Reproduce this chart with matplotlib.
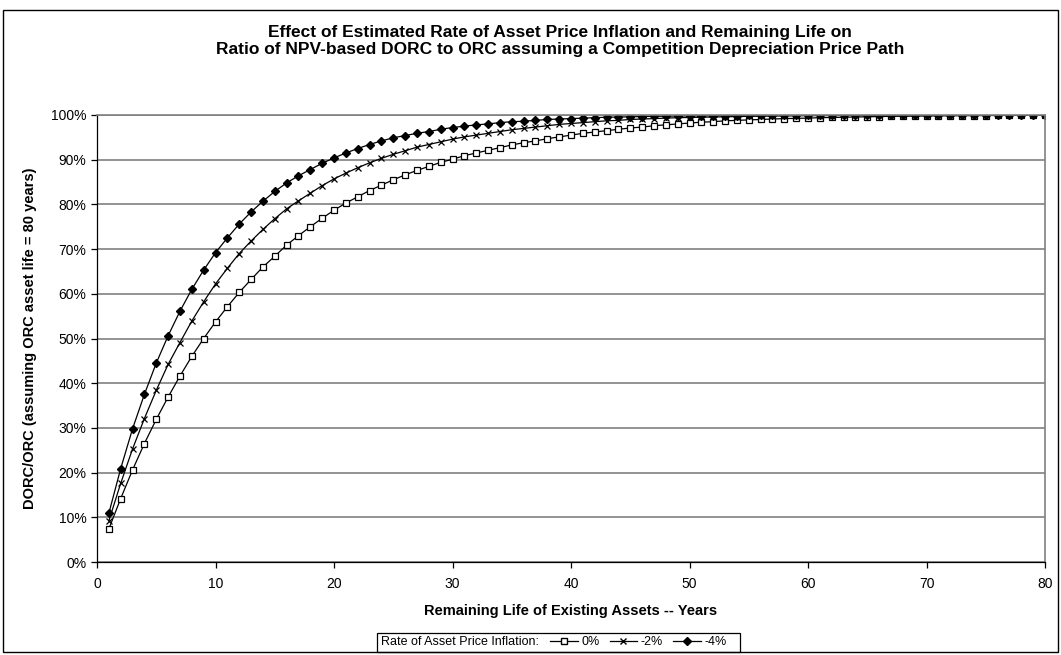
import matplotlib
matplotlib.use('Agg')
import matplotlib.pyplot as plt
from matplotlib.ticker import PercentFormatter, MultipleLocator
from matplotlib.lines import Line2D
from matplotlib.patches import Rectangle

plt.rcParams['font.family'] = ['Liberation Sans', 'DejaVu Sans']

# remaining life (years)
years = list(range(1, 81))

# DORC/ORC (%) for each rate of asset price inflation
ratio_0 = [7.4, 14.2, 20.6, 26.5, 31.9, 36.9, 41.6, 46.0, 50.0, 53.7,
           57.1, 60.3, 63.2, 66.0, 68.4, 70.9, 73.0, 75.0, 76.9, 78.7,
           80.3, 81.7, 83.1, 84.3, 85.5, 86.6, 87.6, 88.5, 89.4, 90.1,
           90.9, 91.5, 92.1, 92.7, 93.3, 93.8, 94.2, 94.7, 95.1, 95.5,
           95.9, 96.2, 96.5, 96.8, 97.1, 97.3, 97.6, 97.8, 98.0, 98.2,
           98.4, 98.5, 98.7, 98.8, 98.9, 99.0, 99.1, 99.2, 99.25, 99.3,
           99.4, 99.45, 99.5, 99.55, 99.6, 99.65, 99.7, 99.72, 99.75, 99.78,
           99.8, 99.82, 99.84, 99.86, 99.88, 99.9, 99.91, 99.92, 99.94, 99.95]

ratio_m2 = [9.2, 17.6, 25.3, 32.1, 38.4, 44.2, 49.1, 53.9, 58.2, 62.2,
            65.7, 69.0, 71.8, 74.4, 76.8, 79.0, 80.8, 82.5, 84.2, 85.7,
            87.0, 88.2, 89.3, 90.3, 91.2, 92.0, 92.8, 93.4, 94.0, 94.6,
            95.1, 95.5, 95.9, 96.3, 96.7, 97.0, 97.3, 97.6, 97.9, 98.1,
            98.3, 98.5, 98.7, 98.8, 99.0, 99.1, 99.2, 99.3, 99.4, 99.45,
            99.5, 99.55, 99.6, 99.65, 99.7, 99.73, 99.76, 99.79, 99.82, 99.84,
            99.86, 99.88, 99.89, 99.9, 99.91, 99.92, 99.93, 99.94, 99.95, 99.95,
            99.96, 99.96, 99.97, 99.97, 99.98, 99.98, 99.98, 99.99, 99.99, 99.99]

ratio_m4 = [10.9, 20.9, 29.8, 37.5, 44.5, 50.6, 56.1, 61.0, 65.3, 69.2,
            72.5, 75.6, 78.3, 80.7, 82.9, 84.8, 86.4, 87.8, 89.2, 90.4,
            91.5, 92.5, 93.4, 94.2, 94.9, 95.4, 95.9, 96.3, 96.8, 97.2,
            97.5, 97.8, 98.0, 98.3, 98.5, 98.6, 98.8, 99.0, 99.1, 99.2,
            99.3, 99.4, 99.5, 99.55, 99.6, 99.65, 99.7, 99.74, 99.77, 99.8,
            99.82, 99.84, 99.86, 99.88, 99.9, 99.91, 99.92, 99.93, 99.94, 99.95,
            99.95, 99.96, 99.96, 99.97, 99.97, 99.97, 99.98, 99.98, 99.98, 99.98,
            99.99, 99.99, 99.99, 99.99, 99.99, 99.99, 100.0, 100.0, 100.0, 100.0]

series_labels = ['0%', '-2%', '-4%']

fig = plt.figure(figsize=(10.61, 6.55), dpi=100)
ax = fig.add_axes([97 / 1061, 1 - 562 / 655, (1045 - 97) / 1061, (562 - 115) / 655])

ax.plot(years, ratio_0, color='black', lw=0.9, marker='s', ms=4.5,
        mfc='white', mec='black', mew=0.9, label=series_labels[0])
ax.plot(years, ratio_m2, color='black', lw=0.9, marker='x', ms=5,
        mew=0.9, label=series_labels[1])
ax.plot(years, ratio_m4, color='black', lw=0.9, marker='D', ms=3.8,
        mfc='black', mec='black', label=series_labels[2])

ax.set_xlim(0, 80)
ax.set_ylim(0, 100)
ax.xaxis.set_major_locator(MultipleLocator(10))
ax.yaxis.set_major_locator(MultipleLocator(10))
ax.yaxis.set_major_formatter(PercentFormatter(100, decimals=0))
ax.grid(axis='y', color='#808080', lw=1.2)
ax.set_axisbelow(True)
ax.tick_params(direction='out', length=4, width=0.9, labelsize=10, colors='black')
ax.tick_params(axis='x', pad=7)
for side in ['top', 'right']:
    ax.spines[side].set_color('#808080')
    ax.spines[side].set_linewidth(1.2)
for side in ['left', 'bottom']:
    ax.spines[side].set_linewidth(0.9)

ax.set_xlabel('Remaining Life of Existing Assets -- Years', fontsize=10.5,
              fontweight='bold', labelpad=9)
ax.set_ylabel('DORC/ORC (assuming ORC asset life = 80 years)', fontsize=10.5,
              fontweight='bold', labelpad=10)

fig.text(560 / 1061, 1 - 41 / 655,
         'Effect of Estimated Rate of Asset Price Inflation and Remaining Life on\n'
         'Ratio of NPV-based DORC to ORC assuming a Competition Depreciation Price Path',
         ha='center', va='center', fontsize=12.5, fontweight='bold', linespacing=1.15)

# legend
fig.patches.append(Rectangle((377 / 1061, 1 - 652 / 655), 363 / 1061, 19 / 655,
                             transform=fig.transFigure, fill=False,
                             edgecolor='black', lw=0.9))
fig.text(381 / 1061, 1 - 642 / 655, 'Rate of Asset Price Inflation:',
         ha='left', va='center', fontsize=9)
handles = [
    Line2D([], [], color='black', lw=0.9, marker='s', ms=4.5, mfc='white', mec='black'),
    Line2D([], [], color='black', lw=0.9, marker='x', ms=5),
    Line2D([], [], color='black', lw=0.9, marker='D', ms=3.8),
]
fig.legend(handles, series_labels, loc='center left', ncol=3, frameon=False,
           bbox_to_anchor=(550 / 1061, 1 - 642 / 655), fontsize=9,
           handlelength=2.2, handletextpad=0.3, columnspacing=0.8,
           borderpad=0, borderaxespad=0)

# outer chart border
fig.patches.append(Rectangle((3 / 1061, 3 / 655), 1055 / 1061, 642 / 655,
                             transform=fig.transFigure, fill=False,
                             edgecolor='black', lw=1))

plt.savefig('out.png', dpi=100)
